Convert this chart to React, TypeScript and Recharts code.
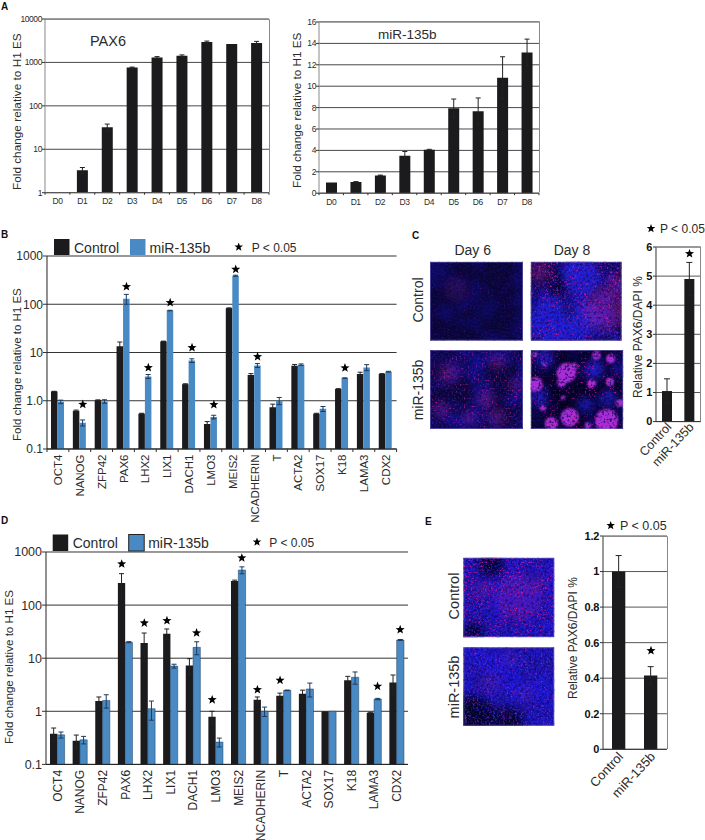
import { Bar, CartesianGrid, ComposedChart, ErrorBar, Line, XAxis, YAxis } from "recharts";

const FONT = "'Liberation Sans', Arial, sans-serif";
const INK = "#2b2b2b";
const DARK = "#1b1b1d";
const BLUE = "#4a8ac4";

// Panel A
const days = ["D0", "D1", "D2", "D3", "D4", "D5", "D6", "D7", "D8"];
const pax6Values = [1, 3.3, 32, 760, 1300, 1420, 2950, 2650, 2800];
const pax6Errors = [0, 0.5, 6, 20, 60, 70, 150, 0, 250];
const mirValues = [1, 1.05, 1.65, 3.5, 4.05, 7.95, 7.65, 10.8, 13.15];
const mirErrors = [0, 0.03, 0.04, 0.4, 0.05, 0.85, 1.25, 1.95, 1.25];

// Panels B and D share the gene list
const genes = ["OCT4", "NANOG", "ZFP42", "PAX6", "LHX2", "LIX1", "DACH1", "LMO3", "MEIS2", "NCADHERIN", "T", "ACTA2", "SOX17", "K18", "LAMA3", "CDX2"];

const bControl = [1.55, 0.62, 1.03, 13.5, 0.54, 17, 2.2, 0.33, 83, 3.4, 0.73, 5.3, 0.54, 1.75, 3.6, 3.6];
const bControlErr = [0.02, 0.02, 0.01, 3, 0.01, 0.2, 0.05, 0.04, 1, 0.25, 0.12, 0.35, 0.01, 0.03, 0.3, 0.05];
const bMir = [0.95, 0.35, 0.97, 130, 3.2, 74, 6.8, 0.46, 390, 5.4, 1, 5.6, 0.68, 2.95, 4.9, 4];
const bMirErr = [0.08, 0.05, 0.08, 30, 0.3, 1, 0.6, 0.04, 10, 0.5, 0.17, 0.2, 0.08, 0.03, 0.7, 0.08];
const bStarsControl = genes.map(() => null);
const bStarsMir = [null, 0.84, null, 232, 4.85, 108, 12.6, 0.83, 531, 8.2, null, null, null, 4.8, null, null];

const dControl = [0.378, 0.279, 1.56, 261, 19.3, 29, 7.3, 0.79, 285, 1.65, 1.97, 2.14, 1, 3.83, 0.94, 3.47];
const dControlErr = [0.106, 0.078, 0.3, 130, 10.5, 6.5, 2.5, 0.21, 10, 0.21, 0.23, 0.36, 0, 0.72, 0.02, 1.35];
const dMir = [0.36, 0.29, 1.6, 20, 1.12, 7.1, 16, 0.263, 457, 1, 2.48, 2.63, 1, 4.37, 1.7, 22];
const dMirErr = [0.047, 0.047, 0.45, 0.5, 0.44, 0.6, 4.4, 0.05, 68, 0.2, 0.03, 0.77, 0, 1.13, 0.05, 0.5];
const dStarsControl = [null, null, null, 596, 46, 51, null, 1.65, null, 2.55, 3.83, null, null, null, null, null];
const dStarsMir = [null, null, null, null, null, null, 30, null, 773, null, null, null, null, null, 2.95, 34.5];

// Panels C and E
const groups = ["Control", "miR-135b"];
const cValues = [1.05, 4.9];
const cErrors = [0.42, 0.57];
const cStars = [null, 5.77];
const eValues = [1, 0.415];
const eErrors = [0.09, 0.05];
const eStars = [null, 0.555];

const logTicksA = [1, 10, 100, 1000, 10000];
const logTicksGene = [0.1, 1, 10, 100, 1000];
const mirTicks = [0, 2, 4, 6, 8, 10, 12, 14, 16];
const cTicks = [0, 1, 2, 3, 4, 5, 6];
const eTicks = [0, 0.2, 0.4, 0.6, 0.8, 1, 1.2];

const starPoints = (cx: number, cy: number, r: number) => {
  const pts: string[] = [];
  for (let i = 0; i < 10; i++) {
    const rad = i % 2 === 0 ? r : r * 0.42;
    const a = (Math.PI / 5) * i - Math.PI / 2;
    pts.push(`${cx + rad * Math.cos(a)},${cy + rad * Math.sin(a)}`);
  }
  return pts.join(" ");
};

const starDot = (shift: number, r = 4.8) => (props: any) => {
  const { cx, cy, index } = props;
  if (cy == null || Number.isNaN(cy)) return <g key={index} />;
  return <polygon key={index} points={starPoints(cx + shift, cy, r)} fill="#000" />;
};

const hiddenLine = { stroke: "none", legendType: "none" as const, isAnimationActive: false, activeDot: false, connectNulls: false };

// x ticks sit on the boundaries between categories, labels on the centres
const boundaryTick = (step: number, lastIndex: number, tickLen: number, render: (x: number, y: number, v: string) => any) => (props: any) => {
  const { x, y, payload, index } = props;
  return (
    <g key={index}>
      {tickLen > 0 && <line x1={x - step / 2} x2={x - step / 2} y1={y} y2={y + tickLen} stroke={INK} />}
      {tickLen > 0 && index === lastIndex && <line x1={x + step / 2} x2={x + step / 2} y1={y} y2={y + tickLen} stroke={INK} />}
      {render(x, y, payload.value)}
    </g>
  );
};

function TimeChart({ left, top, plotW, plotH, values, errors, ticks, log, yFormat }: any) {
  const data = days.map((day, i) => ({ day, value: values[i], err: errors[i] }));
  const step = plotW / days.length;
  return (
    <div style={{ position: "absolute", left: left - 40, top: top - 8 }}>
      <ComposedChart width={plotW + 50} height={plotH + 30} data={data} margin={{ left: 8, right: 10, top: 8, bottom: 0 }}>
        <CartesianGrid horizontal vertical={false} stroke="#333" strokeOpacity={0.9} />
        <XAxis
          dataKey="day"
          height={22}
          tickSize={0}
          tickMargin={0}
          tickLine={false}
          axisLine={{ stroke: "#555" }}
          interval={0}
          tick={boundaryTick(step, days.length - 1, 2, (x, y, v) => (
            <text x={x} y={y + 11.5} textAnchor="middle" fontSize={8.5} letterSpacing={-0.4} fill={INK} fontFamily={FONT}>{v}</text>
          ))}
        />
        <YAxis
          width={32}
          ticks={ticks}
          interval={0}
          scale={log ? "log" : "linear"}
          domain={[ticks[0], ticks[ticks.length - 1]]}
          allowDataOverflow
          tickSize={3}
          tickMargin={0}
          axisLine={{ stroke: "#888" }}
          tickLine={{ stroke: "#333" }}
          tickFormatter={yFormat}
          tick={{ fontSize: 8.5, fill: INK, fontFamily: FONT, letterSpacing: -0.4 }}
        />
        <Bar dataKey="value" fill={DARK} barSize={11} isAnimationActive={false}>
          <ErrorBar dataKey="err" width={2.5} strokeWidth={1} stroke="#222" isAnimationActive={false} />
        </Bar>
      </ComposedChart>
    </div>
  );
}

function GeneChart({ left, top, plotW, plotH, control, controlErr, mir, mirErr, starsControl, starsMir, barW, fontSize, blueStroke, xTickLen, yFormat, starShift }: any) {
  const data = genes.map((gene, i) => ({
    gene,
    control: control[i],
    controlErr: controlErr[i],
    mir: mir[i],
    mirErr: mirErr[i],
    starC: starsControl[i],
    starM: starsMir[i],
  }));
  const step = plotW / genes.length;
  return (
    <div style={{ position: "absolute", left: left - 48, top: top - 8 }}>
      <ComposedChart width={plotW + 58} height={plotH + 88} data={data} barGap={0} margin={{ left: 8, right: 10, top: 8, bottom: 0 }}>
        <CartesianGrid horizontal vertical={false} stroke="#333" />
        <XAxis
          dataKey="gene"
          height={80}
          tickSize={0}
          tickMargin={0}
          tickLine={false}
          axisLine={{ stroke: "#222" }}
          interval={0}
          tick={boundaryTick(step, genes.length - 1, xTickLen, (x, y, v) => (
            <text transform={`translate(${x + fontSize * 0.36},${y + 5.5}) rotate(-90)`} textAnchor="end" fontSize={fontSize} fill={INK} fontFamily={FONT}>{v}</text>
          ))}
        />
        <YAxis
          width={40}
          ticks={logTicksGene}
          interval={0}
          scale="log"
          domain={[0.1, 1000]}
          allowDataOverflow
          tickSize={4}
          tickMargin={0}
          axisLine={{ stroke: "#222" }}
          tickLine={{ stroke: "#333" }}
          tickFormatter={yFormat}
          tick={{ fontSize: fontSize + 0.5, fill: INK, fontFamily: FONT }}
        />
        <Bar dataKey="control" fill={DARK} barSize={barW} isAnimationActive={false}>
          <ErrorBar dataKey="controlErr" width={2.5} strokeWidth={1} stroke="#222" isAnimationActive={false} />
        </Bar>
        <Bar dataKey="mir" fill={BLUE} stroke={blueStroke} strokeWidth={0.5} barSize={barW} isAnimationActive={false}>
          <ErrorBar dataKey="mirErr" width={2.5} strokeWidth={1} stroke="#1d3a5c" isAnimationActive={false} />
        </Bar>
        <Line dataKey="starC" dot={starDot(-starShift)} {...hiddenLine} />
        <Line dataKey="starM" dot={starDot(starShift)} {...hiddenLine} />
      </ComposedChart>
    </div>
  );
}

function PairChart({ left, top, plotW, plotH, values, errors, stars, ticks, barW, labelSize, yFormat, labelY }: any) {
  const data = groups.map((group, i) => ({ group, value: values[i], err: errors[i], star: stars[i] }));
  return (
    <div style={{ position: "absolute", left: left - 30, top: top - 8 }}>
      <ComposedChart width={plotW + 40} height={plotH + 78} data={data} margin={{ left: 8, right: 10, top: 8, bottom: 0 }}>
        <CartesianGrid horizontal vertical={false} stroke="#555" />
        <XAxis
          dataKey="group"
          height={70}
          tickSize={0}
          tickMargin={0}
          tickLine={false}
          axisLine={{ stroke: "#333" }}
          interval={0}
          tick={(props: any) => (
            <text key={props.index} transform={`translate(${props.x + 5},${props.y + labelY}) rotate(-47)`} textAnchor="end" fontSize={labelSize} fill={INK} fontFamily={FONT}>{props.payload.value}</text>
          )}
        />
        <YAxis
          width={22}
          ticks={ticks}
          interval={0}
          domain={[ticks[0], ticks[ticks.length - 1]]}
          tickSize={3}
          tickMargin={1}
          axisLine={{ stroke: "#333" }}
          tickLine={{ stroke: "#333" }}
          tickFormatter={yFormat}
          tick={{ fontSize: 11, fontWeight: 700, fill: "#111", fontFamily: FONT, letterSpacing: -0.3 }}
        />
        <Bar dataKey="value" fill={DARK} barSize={barW} isAnimationActive={false}>
          <ErrorBar dataKey="err" width={3} strokeWidth={1} stroke="#222" isAnimationActive={false} />
        </Bar>
        <Line dataKey="star" dot={starDot(0, 4.8)} {...hiddenLine} />
      </ComposedChart>
    </div>
  );
}

// Fluorescence pictures, approximated with filtered noise over soft patches
type Spot = [number, number, number];
const day8MirCells: Spot[] = [[0.386, 0.288, 0.108], [0.332, 0.415, 0.05], [0.477, 0.203, 0.036], [0.82, 0.894, 0.126], [0.422, 0.852, 0.1], [0.224, 0.932, 0.072], [0.05, 0.436, 0.08], [0.711, 0.068, 0.047], [0.863, 0.11, 0.05], [0.657, 0.428, 0.05], [0.856, 0.403, 0.047], [0.964, 0.67, 0.043], [0.152, 0.182, 0.025], [0.043, 0.055, 0.029], [0.134, 0.733, 0.032], [0.35, 0.606, 0.025], [0.62, 0.958, 0.036]];
const day8MirBlue: Spot[] = [[0.675, 0.246, 0.12], [0.15, 0.1, 0.1], [0.838, 0.606, 0.09], [0.585, 0.69, 0.08], [0.1, 0.6, 0.1], [0.95, 0.25, 0.06]];
const day8MirDark: Spot[] = [[0.52, 0.45, 0.1], [0.28, 0.6, 0.1], [0.55, 0.12, 0.07]];
const day8ControlHot: Spot[] = [[0.82, 0.6, 0.24], [0.1, 0.12, 0.12], [0.95, 0.25, 0.1]];
const day8ControlBlue: Spot[] = [[0.25, 0.75, 0.25], [0.55, 0.2, 0.22], [0.55, 0.72, 0.2]];
const day8ControlDark: Spot[] = [[0.28, 0.32, 0.1], [0.03, 0.42, 0.06], [0.42, 0.62, 0.06]];
const day6ControlHot: Spot[] = [[0.28, 0.35, 0.13]];
const day6MirHot: Spot[] = [[0.6, 0.62, 0.09], [0.72, 0.85, 0.09], [0.2, 0.3, 0.1], [0.12, 0.75, 0.08], [0.72, 0.15, 0.08], [0.42, 0.85, 0.07], [0.92, 0.45, 0.07]];
const eControlHot: Spot[] = [[0.6, 0.5, 0.26], [0.2, 0.4, 0.1], [0.85, 0.3, 0.08]];
const eMirHot: Spot[] = [[0.3, 0.45, 0.12], [0.68, 0.6, 0.1], [0.5, 0.15, 0.1]];
const eMirDark: Spot[] = [[0.08, 0.95, 0.3], [0.5, 0.95, 0.16]];
const eControlDark: Spot[] = [[0.3, 0.08, 0.14], [0.1, 0.95, 0.12]];

function Micrograph({ id, x, y, w, h, base, cloudAlpha, speckle, seed, cells = [], blues = [], darks = [], hots = [], hotAlpha = 0.45, grainAlpha = 0.5 }: any) {
  const spots = (list: Spot[], fill: string, opacity: number, filterId: string) =>
    list.map(([cx, cy, r], i) => <circle key={i} cx={cx * w} cy={cy * h} r={r * w} fill={fill} fillOpacity={opacity} filter={`url(#${id}${filterId})`} />);
  return (
    <svg x={x} y={y} width={w} height={h}>
      <defs>
        <filter id={`${id}c`} x="0" y="0" width="100%" height="100%" colorInterpolationFilters="sRGB">
          <feTurbulence type="fractalNoise" baseFrequency="0.035" numOctaves={3} seed={seed} />
          <feColorMatrix values="0 0 0 0 0.1  0 0 0 0 0.08  0 0 0 0 0.82  3.5 0 0 0 -1.35" />
          <feGaussianBlur stdDeviation="2" />
        </filter>
        <filter id={`${id}g`} x="0" y="0" width="100%" height="100%" colorInterpolationFilters="sRGB">
          <feTurbulence type="fractalNoise" baseFrequency="0.5" numOctaves={2} seed={seed + 7} />
          <feColorMatrix values="0 0 0 0 0.22  0 0 0 0 0.16  0 0 0 0 0.95  5 0 0 0 -2.4" />
        </filter>
        <filter id={`${id}k`} x="0" y="0" width="100%" height="100%" colorInterpolationFilters="sRGB">
          <feTurbulence type="fractalNoise" baseFrequency="0.38" numOctaves={2} seed={seed + 11} />
          <feColorMatrix values="0 0 0 0 0.05  0 0 0 0 0.02  0 0 0 0 0.3  5 0 0 0 -2.5" />
        </filter>
        <filter id={`${id}s`} x="0" y="0" width="100%" height="100%" colorInterpolationFilters="sRGB">
          <feTurbulence type="fractalNoise" baseFrequency="0.08" numOctaves={2} seed={seed + 5} result="patch" />
          <feColorMatrix in="patch" values="0 0 0 0 0  0 0 0 0 0  0 0 0 0 0  4 0 0 0 -1.3" result="mask" />
          <feTurbulence type="fractalNoise" baseFrequency="0.5" numOctaves={2} seed={seed + 3} />
          <feColorMatrix values={`0 0 0 0 0.85  0 0 0 0 0.1  0 0 0 0 0.6  5 0 0 0 ${-5 * speckle}`} />
          <feComposite in2="mask" operator="in" />
          <feGaussianBlur stdDeviation="0.6" />
        </filter>
        <filter id={`${id}soft`} x="-60%" y="-60%" width="220%" height="220%">
          <feGaussianBlur stdDeviation="5" />
        </filter>
        <filter id={`${id}crisp`} x="-30%" y="-30%" width="160%" height="160%">
          <feGaussianBlur stdDeviation="1" />
        </filter>
      </defs>
      <rect width={w} height={h} fill={base} />
      <rect width={w} height={h} filter={`url(#${id}c)`} opacity={cloudAlpha} />
      {spots(blues, "#1e1ed2", 0.95, "soft")}
      {spots(darks, "#03021a", 0.9, "soft")}
      <rect width={w} height={h} filter={`url(#${id}g)`} opacity={cloudAlpha * 0.6} />
      {spots(hots, "#a020a8", hotAlpha, "soft")}
      {spots(cells, "#b030e0", 0.95, "crisp")}
      <rect width={w} height={h} filter={`url(#${id}k)`} opacity={grainAlpha} />
      <rect width={w} height={h} filter={`url(#${id}s)`} opacity={0.75} />
      <rect x={0.5} y={0.5} width={w - 1} height={h - 1} fill="none" stroke="#7a74cc" strokeOpacity={0.55} />
    </svg>
  );
}

const T = ({ x, y, size = 12, bold, rot, anchor = "start", children }: any) => (
  <text
    transform={`translate(${x},${y})${rot ? ` rotate(${rot})` : ""}`}
    fontSize={size}
    fontWeight={bold ? 700 : 400}
    fontFamily={FONT}
    fill={bold ? "#111" : INK}
    textAnchor={anchor}
  >
    {children}
  </text>
);

const Legend = ({ x, y, textY, boxH, outlined, starX, starY, pX, pY }: any) => (
  <g>
    <rect x={x} y={y} width={15.5} height={boxH} fill={DARK} />
    <T x={x + 20} y={textY} size={14}>Control</T>
    <rect x={x + 76} y={y} width={15.5} height={boxH} fill={BLUE} stroke={outlined ? "#222" : "none"} />
    <T x={x + 95.5} y={textY} size={14}>miR-135b</T>
    <polygon points={starPoints(starX, starY, 4.5)} fill="#000" />
    <T x={pX} y={pY} size={12}>{"P < 0.05"}</T>
  </g>
);

export default function App() {
  return (
    <div style={{ position: "absolute", left: 0, top: 0, width: 705, height: 840, background: "#fff", overflow: "hidden" }}>
      <TimeChart left={45} top={19} plotW={224} plotH={173.7} values={pax6Values} errors={pax6Errors} ticks={logTicksA} log />
      <TimeChart left={319.3} top={21.5} plotW={220} plotH={171.2} values={mirValues} errors={mirErrors} ticks={mirTicks} />
      <GeneChart left={47.4} top={256} plotW={349.6} plotH={193} control={bControl} controlErr={bControlErr} mir={bMir} mirErr={bMirErr} starsControl={bStarsControl} starsMir={bStarsMir} barW={6.5} fontSize={11.5} xTickLen={3} starShift={3} yFormat={(v: number) => (v === 1 ? "1.0" : String(v))} />
      <GeneChart left={46} top={552.3} plotW={362} plotH={212.4} control={dControl} controlErr={dControlErr} mir={dMir} mirErr={dMirErr} starsControl={dStarsControl} starsMir={dStarsMir} barW={7.3} fontSize={12} blueStroke="#1d3a5c" xTickLen={0} starShift={3.5} yFormat={(v: number) => String(v)} />
      <PairChart left={656} top={246.7} plotW={44.7} plotH={174.6} values={cValues} errors={cErrors} stars={cStars} ticks={cTicks} barW={10} labelSize={12.5} labelY={6} />
      <PairChart left={603.3} top={536} plotW={64} plotH={213.3} values={eValues} errors={eErrors} stars={eStars} ticks={eTicks} barW={13.3} labelSize={13} labelY={8} />

      <svg width={705} height={840} style={{ position: "absolute", left: 0, top: 0, pointerEvents: "none" }}>
        {/* frames the axes do not draw */}
        <g stroke="#888" fill="none">
          <path d="M45 19.5H269.5V192.5" />
          <path d="M319.5 21.5H539.5V192.5" />
          <path d="M656 247H700.5V421" />
          <path d="M603.3 536.5H667.5V749" />
        </g>

        <T x={1} y={10} size={10} bold>A</T>
        <T x={1} y={238} size={10} bold>B</T>
        <T x={412} y={239} size={10} bold>C</T>
        <T x={1} y={524} size={10} bold>D</T>
        <T x={425} y={525} size={10} bold>E</T>

        <T x={90} y={46} size={14.5}>PAX6</T>
        <T x={378} y={39} size={13.5}>miR-135b</T>
        <T x={20.5} y={190} size={11.8} rot={-90}>Fold change relative to H1 ES</T>
        <T x={301} y={188} size={11.7} rot={-90}>Fold change relative to H1 ES</T>
        <T x={20.5} y={441} size={11.5} rot={-90}>Fold change relative to H1 ES</T>
        <T x={13} y={744} size={11.6} rot={-90}>Fold change relative to H1 ES</T>
        <T x={641.5} y={398} size={12} rot={-90}>Relative PAX6/DAPI %</T>
        <T x={577} y={699} size={12} rot={-90}>Relative PAX6/DAPI %</T>

        <Legend x={54} y={239} textY={252.5} boxH={16} starX={238.7} starY={247} pX={251.7} pY={252} />
        <Legend x={52.7} y={534.5} textY={547.5} boxH={16.5} outlined starX={257} starY={542} pX={269.3} pY={547} />

        <polygon points={starPoints(651, 228.5, 4.5)} fill="#000" />
        <T x={660} y={233} size={12}>{"P < 0.05"}</T>
        <polygon points={starPoints(610.7, 525.5, 4.5)} fill="#000" />
        <T x={620} y={530} size={12.5}>{"P < 0.05"}</T>

        <T x={472.7} y={255} size={14} anchor="middle">Day 6</T>
        <T x={572} y={255} size={14} anchor="middle">Day 8</T>
        <T x={422.5} y={300} size={14} anchor="middle" rot={-90}>Control</T>
        <T x={422.5} y={390} size={14} anchor="middle" rot={-90}>miR-135b</T>
        <T x={459} y={596} size={14.5} anchor="middle" rot={-90}>Control</T>
        <T x={459} y={687} size={14.5} anchor="middle" rot={-90}>miR-135b</T>

        <Micrograph id="c1" x={430} y={261.7} w={93} h={79} base="#0a0630" cloudAlpha={0.3} speckle={0.72} seed={4} hots={day6ControlHot} hotAlpha={0.18} />
        <Micrograph id="c2" x={530.7} y={261.7} w={91} h={79} base="#080528" cloudAlpha={0.85} speckle={0.56} seed={9} hots={day8ControlHot} blues={day8ControlBlue} darks={day8ControlDark} hotAlpha={0.45} />
        <Micrograph id="c3" x={430} y={350} w={93} h={79} base="#0a0630" cloudAlpha={0.55} speckle={0.6} seed={14} hots={day6MirHot} hotAlpha={0.45} />
        <Micrograph id="c4" x={530.7} y={350} w={92.5} h={79} base="#040214" cloudAlpha={0.3} speckle={0.6} seed={21} cells={day8MirCells} blues={day8MirBlue} darks={day8MirDark} grainAlpha={0.7} />
        <Micrograph id="e1" x={463.3} y={557.7} w={91} h={79.5} base="#1a12a8" cloudAlpha={0.9} speckle={0.55} seed={31} hots={eControlHot} darks={eControlDark} hotAlpha={0.3} />
        <Micrograph id="e2" x={463.3} y={647.3} w={91} h={78.5} base="#1a12a8" cloudAlpha={0.9} speckle={0.59} seed={37} hots={eMirHot} hotAlpha={0.2} darks={eMirDark} />
      </svg>
    </div>
  );
}
